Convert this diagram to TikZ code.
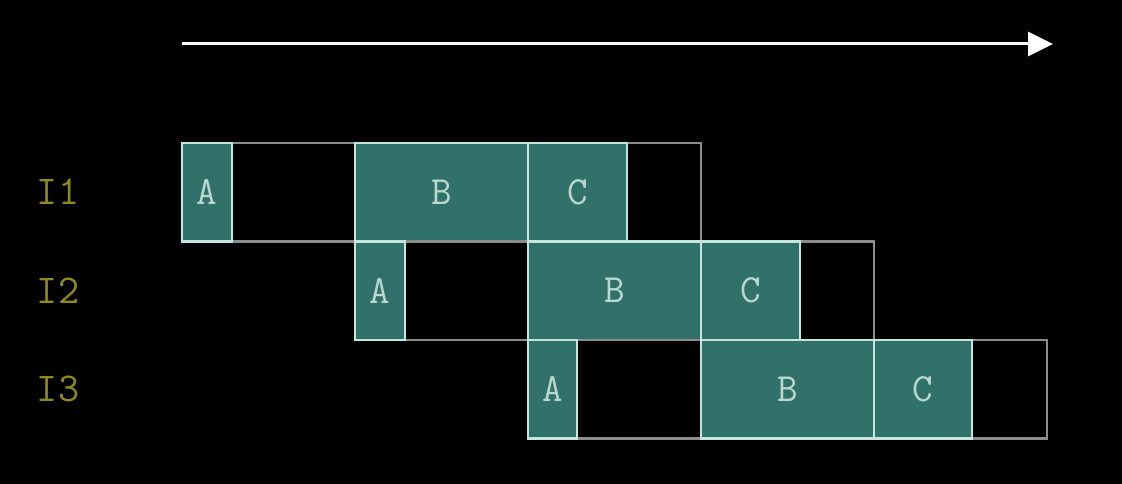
\documentclass[tikz,border=0pt]{standalone}
\usepackage{fontspec}
\usetikzlibrary{arrows.meta}
\definecolor{bgc}{HTML}{000000}
\definecolor{fillc}{HTML}{30726A}
\definecolor{edgec}{HTML}{C4E6DE}
\definecolor{emptyc}{HTML}{8C8C8C}
\definecolor{txtc}{HTML}{BCD6D0}
\definecolor{lblc}{HTML}{8F8A1E}
\tikzset{
  slot/.style={draw=emptyc, line width=2.6pt, minimum height=98.5pt, inner sep=0pt, outer sep=0pt, anchor=north west},
  stage/.style={draw=edgec, fill=fillc, line width=2.6pt, minimum height=98.5pt, inner sep=0pt, outer sep=0pt, anchor=north west, text=txtc, font=\fontsize{40}{40}\selectfont\ttfamily},
  rowlbl/.style={text=lblc, font=\fontsize{41}{41}\selectfont\ttfamily, inner sep=0pt},
}
\begin{document}
\begin{tikzpicture}[x=1pt,y=-1pt]
\useasboundingbox[fill=bgc] (0,0) rectangle (1122,484);
% time arrow
\coordinate (t0) at (182,44);
\coordinate (t1) at (1053,44);
\draw[white, line width=3pt, -{Triangle[length=25pt,width=24pt]}] (t0) -- (t1);
% row labels
\node[rowlbl] (l1) at (58,192) {I1};
\node[rowlbl] (l2) at (58,291) {I2};
\node[rowlbl] (l3) at (58,389) {I3};
% row 1
\node[slot, minimum width=519pt] (r1) at (182,143) {};
\node[stage, minimum width=50pt] (a1) at (182,143) {A};
\node[stage, minimum width=173pt] (b1) at (355,143) {B};
\node[stage, minimum width=99pt] (c1) at (528,143) {C};
% row 2
\node[slot, minimum width=519pt] (r2) at (355,241.5) {};
\node[stage, minimum width=50pt] (a2) at (355,241.5) {A};
\node[stage, minimum width=173pt] (b2) at (528,241.5) {B};
\node[stage, minimum width=99pt] (c2) at (701,241.5) {C};
% row 3
\node[slot, minimum width=519pt] (r3) at (528,340) {};
\node[stage, minimum width=49pt] (a3) at (528,340) {A};
\node[stage, minimum width=173pt] (b3) at (701,340) {B};
\node[stage, minimum width=98pt] (c3) at (874,340) {C};
\end{tikzpicture}
\end{document}
